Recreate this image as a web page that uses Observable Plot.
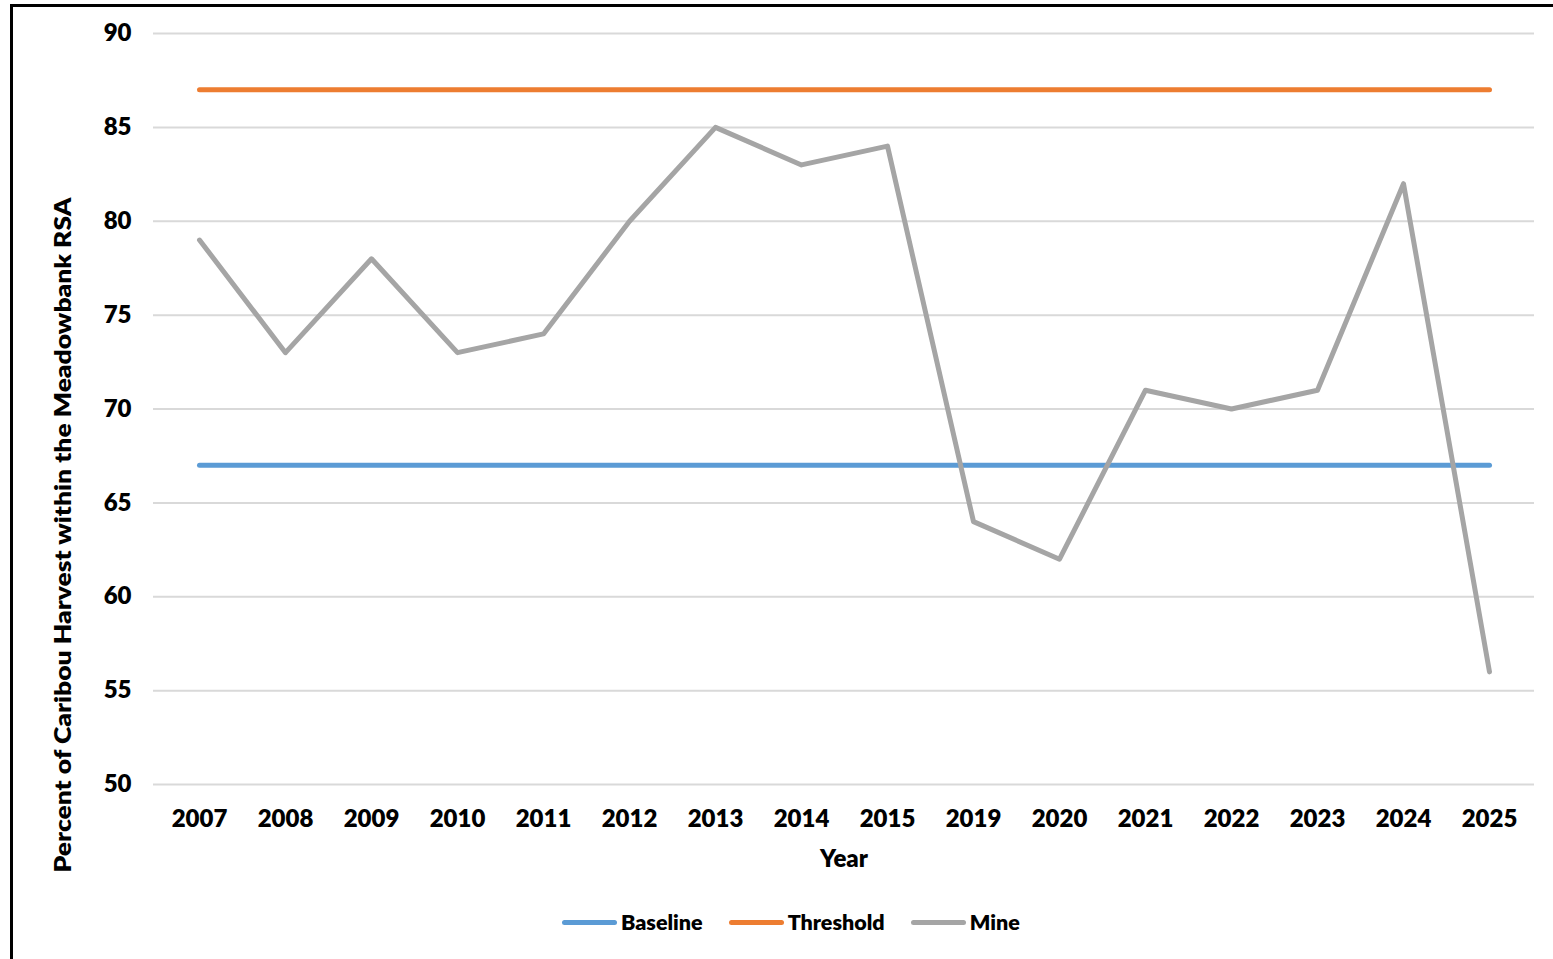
<!DOCTYPE html>
<html>
<head>
<meta charset="utf-8">
<script src="https://cdn.jsdelivr.net/npm/d3@7"></script>
<script src="https://cdn.jsdelivr.net/npm/@observablehq/plot@0.6"></script>
<style>
  html, body { margin: 0; padding: 0; background: #fff; overflow: hidden; }
  body { width: 1553px; height: 959px; position: relative; font-family: Lato, "Open Sans", sans-serif; }
  #ftop { position: absolute; left: 10px; top: 4px; width: 1543px; height: 3px; background: #000; }
  #fleft { position: absolute; left: 10px; top: 4px; width: 3px; height: 955px; background: #000; }
  #chart { position: absolute; left: 0; top: 0; }
  #ylabel { position: absolute; left: 62px; top: 535px; transform: translate(-50%, -50%) rotate(-90deg) scaleX(1.2); white-space: nowrap; font-weight: 800; font-size: 22px; color: #000; }
  #legend { position: absolute; top: 909px; left: 562px; display: flex; gap: 26px; font-weight: 800; font-size: 21.5px; color: #000; }
  #legend .item { display: flex; align-items: center; gap: 4px; }
  #legend .sw { width: 55px; height: 5px; border-radius: 3px; }
</style>
</head>
<body>
<div id="ftop"></div>
<div id="fleft"></div>
<div id="chart"></div>
<div id="ylabel">Percent of Caribou Harvest within the Meadowbank RSA</div>
<div id="legend"></div>
<script>
const years = ["2007","2008","2009","2010","2011","2012","2013","2014","2015","2019","2020","2021","2022","2023","2024","2025"];
const mine = [79,73,78,73,74,80,85,83,84,64,62,71,70,71,82,56];
const baselineValue = 67;
const thresholdValue = 87;
const yTicks = [50,55,60,65,70,75,80,85,90];
const seriesNames = ["Baseline","Threshold","Mine"];
const seriesColors = ["#5B9BD5","#ED7D31","#A5A5A5"];

const mineData = years.map((y, i) => ({year: y, value: mine[i]}));
const baseData = years.map(y => ({year: y, value: baselineValue}));
const threshData = years.map(y => ({year: y, value: thresholdValue}));

const chart = Plot.plot({
  width: 1553,
  height: 880,
  marginLeft: 153,
  marginRight: 19,
  marginTop: 33,
  marginBottom: 96,
  style: {fontFamily: "Lato, 'Open Sans', sans-serif", fontSize: "24px", fontWeight: "800", color: "#000", background: "transparent"},
  x: {type: "point", domain: years, padding: 0.5, label: null},
  y: {domain: [50, 90], ticks: yTicks, label: null},
  marks: [
    Plot.ruleY(yTicks, {stroke: "#D9D9D9", strokeWidth: 2}),
    Plot.axisY({ticks: yTicks, tickSize: 0, tickPadding: 22, fontSize: 24, fontWeight: 800, fill: "#000"}),
    Plot.axisX({tickSize: 0, tickPadding: 25, fontSize: 24, fontWeight: 800, fill: "#000", label: "Year", labelAnchor: "center", labelOffset: 82, labelArrow: "none"}),
    Plot.line(baseData, {x: "year", y: "value", stroke: seriesColors[0], strokeWidth: 5, strokeLinecap: "round"}),
    Plot.line(threshData, {x: "year", y: "value", stroke: seriesColors[1], strokeWidth: 5, strokeLinecap: "round"}),
    Plot.line(mineData, {x: "year", y: "value", stroke: seriesColors[2], strokeWidth: 5, strokeLinejoin: "round", strokeLinecap: "round"})
  ]
});
document.getElementById("chart").appendChild(chart);

const legend = document.getElementById("legend");
seriesNames.forEach((name, i) => {
  const item = document.createElement("div");
  item.className = "item";
  const sw = document.createElement("div");
  sw.className = "sw";
  sw.style.background = seriesColors[i];
  const label = document.createElement("span");
  label.textContent = name;
  item.appendChild(sw);
  item.appendChild(label);
  legend.appendChild(item);
});
</script>
</body>
</html>
